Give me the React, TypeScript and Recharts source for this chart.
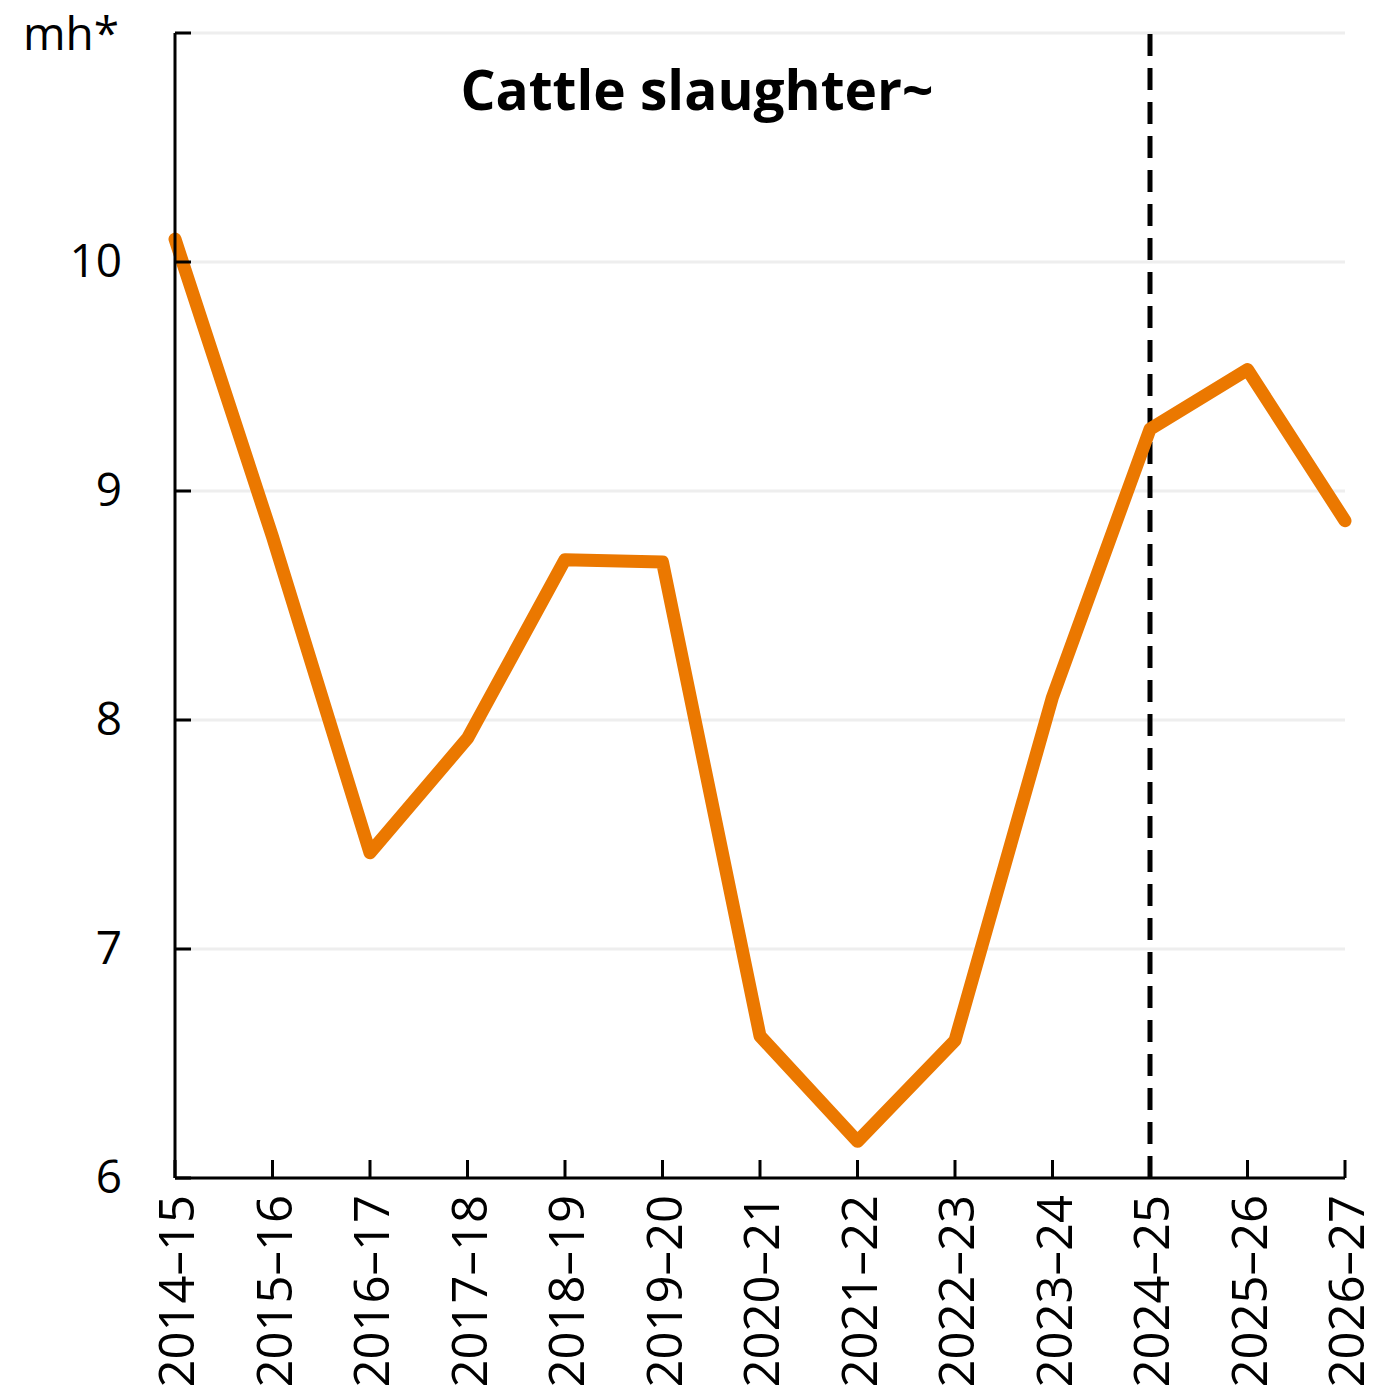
import { LineChart, Line, XAxis, YAxis, CartesianGrid, ReferenceLine } from 'recharts';

const years = ['2014–15', '2015–16', '2016–17', '2017–18', '2018–19', '2019–20', '2020–21', '2021–22', '2022–23', '2023–24', '2024–25', '2025–26', '2026–27'];
const slaughter = [10.1, 8.8, 7.42, 7.92, 8.7, 8.69, 6.62, 6.16, 6.6, 8.1, 9.27, 9.53, 8.87];
const yTicks = [6, 7, 8, 9, 10, 11];
const forecastStart = '2024–25';

const data = years.map((year, i) => ({ year, value: slaughter[i] }));

const FONT = '"Open Sans", sans-serif';

function YTick({ x, y, payload }: any) {
    return (
        <g>
            <line x1={x} x2={x + 16} y1={y} y2={y} stroke="#000" strokeWidth={3} />
            {payload.value !== 11 && (
                <text x={x - 53} y={y - 3} textAnchor="end" dominantBaseline="central" fontSize={46} fontFamily={FONT} fill="#000">
                    {payload.value}
                </text>
            )}
        </g>
    );
}

function XTick({ x, y, payload }: any) {
    return (
        <g>
            <line x1={x} x2={x} y1={y - 18} y2={y} stroke="#000" strokeWidth={3} />
            <text x={x} y={y + 17} transform={`rotate(-90, ${x}, ${y + 17})`} textAnchor="end" dominantBaseline="central" fontSize={49} fontFamily={FONT} fill="#000">
                {payload.value}
            </text>
        </g>
    );
}

export default function App() {
    return (
        <div style={{ position: 'absolute', left: 0, top: 0, width: 1400, height: 1400, background: '#fff', fontFamily: FONT }}>
            <div style={{ position: 'absolute', left: 23, top: 9, fontSize: 46, lineHeight: 1, color: '#000' }}>mh*</div>
            <div style={{ position: 'absolute', left: 0, width: 1394, top: 61, fontSize: 55, lineHeight: 1, fontWeight: 700, textAlign: 'center', color: '#000', zIndex: 2 }}>
                Cattle slaughter~
            </div>
            <LineChart width={1400} height={1400} data={data} margin={{ top: 33, right: 55, left: 0, bottom: 0 }}>
                <CartesianGrid vertical={false} stroke="#eeeeee" strokeWidth={3} />
                <XAxis
                    dataKey="year"
                    height={222}
                    interval={0}
                    tickSize={0}
                    tickMargin={0}
                    tick={<XTick />}
                    axisLine={{ stroke: '#000', strokeWidth: 3 }}
                    tickLine={false}
                />
                <YAxis
                    width={175}
                    domain={[6, 11]}
                    ticks={yTicks}
                    tickSize={0}
                    tickMargin={0}
                    tick={<YTick />}
                    axisLine={{ stroke: '#000', strokeWidth: 3 }}
                    tickLine={false}
                />
                <ReferenceLine x={forecastStart} stroke="#000" strokeWidth={5} strokeDasharray="22 12" />
                <Line
                    type="linear"
                    dataKey="value"
                    stroke="#eb7800"
                    strokeWidth={13}
                    strokeLinecap="round"
                    strokeLinejoin="round"
                    dot={false}
                    activeDot={false}
                    isAnimationActive={false}
                />
            </LineChart>
        </div>
    );
}
